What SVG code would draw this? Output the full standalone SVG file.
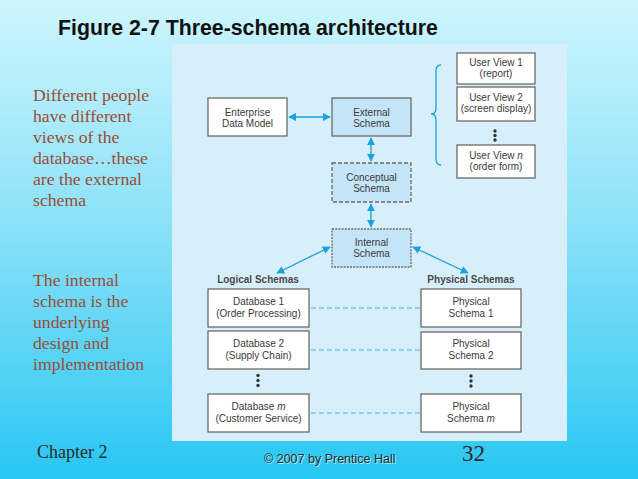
<svg xmlns="http://www.w3.org/2000/svg" width="638" height="479" viewBox="0 0 638 479">
<defs>
<linearGradient id="bg" x1="0" y1="0" x2="0" y2="1">
<stop offset="0" stop-color="#cdf5fd"/>
<stop offset="0.5" stop-color="#86e0f8"/>
<stop offset="1" stop-color="#28c6f2"/>
</linearGradient>
<marker id="ah" viewBox="0 0 10 10" refX="9" refY="5" markerWidth="8" markerHeight="8" markerUnits="userSpaceOnUse" orient="auto-start-reverse">
<path d="M0,0 L10,5 L0,10 z" fill="#1aa2dc"/>
</marker>
<style>
.box{fill:#ffffff;stroke:#6a6a6a;stroke-width:1.3}
.sbox{fill:#c4e5f8;stroke:#6a6a6a;stroke-width:1.3}
.dash{stroke-dasharray:4,2}
.dot{stroke-dasharray:2,1.2}
.t{font-family:"Liberation Sans",Arial,sans-serif;font-size:10px;fill:#3a3a3a;text-anchor:middle}
.lbl{font-family:"Liberation Sans",Arial,sans-serif;font-size:10px;font-weight:bold;fill:#4a4a4a;text-anchor:middle}
.conn{stroke:#1aa2dc;stroke-width:1.3;fill:none}
.link{stroke:#4fb8e4;stroke-width:1.2;stroke-dasharray:5,3;fill:none}
.side{font-family:"Liberation Serif","Times New Roman",serif;font-size:17.7px;fill:#9a4d36}
.vd{fill:#333}
</style>
</defs>
<rect x="0" y="0" width="638" height="479" fill="url(#bg)"/>
<rect x="172" y="44" width="395" height="397" fill="#d6effa"/>
<text x="58" y="35" font-family="'Liberation Sans',Arial,sans-serif" font-size="21.3" font-weight="bold" fill="#111">Figure 2-7 Three-schema architecture</text>
<g id="side-text" class="side">
<text x="33" y="101">Different people</text>
<text x="33" y="122">have different</text>
<text x="33" y="143">views of the</text>
<text x="33" y="164">database…these</text>
<text x="33" y="185">are the external</text>
<text x="33" y="206">schema</text>
<text x="33" y="286">The internal</text>
<text x="33" y="307">schema is the</text>
<text x="33" y="328">underlying</text>
<text x="33" y="349">design and</text>
<text x="33" y="370">implementation</text>
</g>
<g id="connectors">
<line class="conn" x1="289" y1="117" x2="330" y2="117" marker-start="url(#ah)" marker-end="url(#ah)"/>
<line class="conn" x1="371" y1="138" x2="371" y2="161" marker-start="url(#ah)" marker-end="url(#ah)"/>
<line class="conn" x1="371" y1="204" x2="371" y2="227" marker-start="url(#ah)" marker-end="url(#ah)"/>
<line class="conn" x1="330" y1="247" x2="277" y2="273" marker-start="url(#ah)" marker-end="url(#ah)"/>
<line class="conn" x1="413" y1="247" x2="468" y2="273" marker-start="url(#ah)" marker-end="url(#ah)"/>
<path class="conn" d="M441,65 Q436,65 436,71 L436,108 Q436,114 431,114 Q436,114 436,120 L436,159 Q436,165 441,165"/>
<line class="link" x1="311" y1="308" x2="420" y2="308"/>
<line class="link" x1="311" y1="350" x2="420" y2="350"/>
<line class="link" x1="311" y1="413" x2="420" y2="413"/>
</g>
<g id="enterprise">
<rect class="box" x="208" y="98" width="79" height="38"/>
<text class="t" x="247.5" y="116">Enterprise</text>
<text class="t" x="247.5" y="127">Data Model</text>
</g>
<g id="external">
<rect class="sbox" x="332" y="98" width="79" height="38"/>
<text class="t" x="371.5" y="116">External</text>
<text class="t" x="371.5" y="127">Schema</text>
</g>
<g id="conceptual">
<rect class="sbox dash" x="332" y="163" width="79" height="39"/>
<text class="t" x="371.5" y="181">Conceptual</text>
<text class="t" x="371.5" y="192">Schema</text>
</g>
<g id="internal">
<rect class="sbox dot" x="332" y="229" width="79" height="38"/>
<text class="t" x="371.5" y="246">Internal</text>
<text class="t" x="371.5" y="257">Schema</text>
</g>
<g id="userview1">
<rect class="box" x="457" y="53" width="78" height="31"/>
<text class="t" x="496" y="66">User View 1</text>
<text class="t" x="496" y="77">(report)</text>
</g>
<g id="userview2">
<rect class="box" x="457" y="87" width="78" height="34"/>
<text class="t" x="496" y="101">User View 2</text>
<text class="t" x="496" y="112">(screen display)</text>
</g>
<g id="userview-dots">
<circle class="vd" cx="495" cy="131" r="1.7"/>
<circle class="vd" cx="495" cy="135.5" r="1.7"/>
<circle class="vd" cx="495" cy="140" r="1.7"/>
</g>
<g id="userviewn">
<rect class="box" x="457" y="145" width="78" height="33"/>
<text class="t" x="496" y="159">User View <tspan font-style="italic">n</tspan></text>
<text class="t" x="496" y="170">(order form)</text>
</g>
<g id="logical-label"><text class="lbl" x="258" y="283">Logical Schemas</text></g>
<g id="physical-label"><text class="lbl" x="471" y="283">Physical Schemas</text></g>
<g id="db1">
<rect class="box" x="208" y="289" width="101" height="38"/>
<text class="t" x="258.5" y="305">Database 1</text>
<text class="t" x="258.5" y="317">(Order Processing)</text>
</g>
<g id="db2">
<rect class="box" x="208" y="331" width="101" height="38"/>
<text class="t" x="258.5" y="347">Database 2</text>
<text class="t" x="258.5" y="359">(Supply Chain)</text>
</g>
<g id="db-dots">
<circle class="vd" cx="258" cy="375.5" r="1.7"/>
<circle class="vd" cx="258" cy="380.5" r="1.7"/>
<circle class="vd" cx="258" cy="385.5" r="1.7"/>
</g>
<g id="dbm">
<rect class="box" x="208" y="394" width="101" height="38"/>
<text class="t" x="258.5" y="410">Database <tspan font-style="italic">m</tspan></text>
<text class="t" x="258.5" y="422">(Customer Service)</text>
</g>
<g id="ps1">
<rect class="box" x="421" y="289" width="100" height="38"/>
<text class="t" x="471" y="305">Physical</text>
<text class="t" x="471" y="317">Schema 1</text>
</g>
<g id="ps2">
<rect class="box" x="421" y="332" width="100" height="37"/>
<text class="t" x="471" y="347">Physical</text>
<text class="t" x="471" y="359">Schema 2</text>
</g>
<g id="ps-dots">
<circle class="vd" cx="471" cy="376" r="1.7"/>
<circle class="vd" cx="471" cy="381" r="1.7"/>
<circle class="vd" cx="471" cy="386" r="1.7"/>
</g>
<g id="psm">
<rect class="box" x="421" y="394" width="100" height="38"/>
<text class="t" x="471" y="410">Physical</text>
<text class="t" x="471" y="422">Schema <tspan font-style="italic">m</tspan></text>
</g>
<g id="footer">
<text x="37" y="458" font-family="'Liberation Serif','Times New Roman',serif" font-size="18" fill="#2a2a2a">Chapter 2</text>
<text x="264" y="463" font-family="'Liberation Sans',Arial,sans-serif" font-size="12.5" fill="#ffffff" opacity="0.6" dx="0.8" dy="0.8">© 2007 by Prentice Hall</text>
<text x="264" y="463" font-family="'Liberation Sans',Arial,sans-serif" font-size="12.5" fill="#2a2a2a">© 2007 by Prentice Hall</text>
<text x="462" y="461" font-family="'Liberation Serif','Times New Roman',serif" font-size="23" fill="#2a2a2a">32</text>
</g>
</svg>
